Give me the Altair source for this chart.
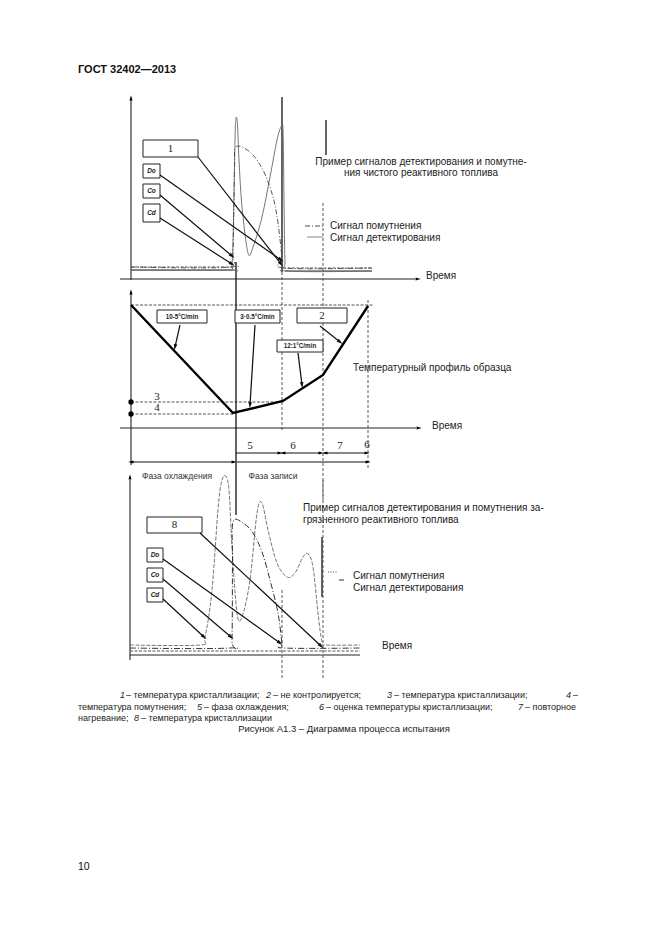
import math
import altair as alt
import pandas as pd

# ---------------- data (time / signal positions) ----------------
# Top panel: clean fuel
top_detect_t = [131, 230, 232, 233.5, 235, 236, 237.5, 239, 242, 248, 253, 262, 270, 277, 281, 283, 284, 285, 287, 372]
top_detect_v = [270, 270, 266, 220, 140, 118, 125, 160, 207, 253, 247, 217, 177, 140, 127, 130, 200, 262, 271, 271]
top_cloud_t = [131, 231, 233, 234.5, 236, 250, 263, 273, 278, 282, 284, 372]
top_cloud_v = [267, 267, 255, 170, 147, 152, 170, 197, 223, 257, 268, 268]

# Middle panel: temperature profile
prof_t = [131, 233, 283, 323, 368]
prof_v = [305, 413, 401, 375, 306]

# Bottom panel: contaminated fuel
bot_detect_t = [130, 200, 205, 212, 220, 228, 232, 237, 242, 250, 257, 262, 268, 277, 287, 295, 303, 308, 313, 318, 322, 326, 360]
bot_detect_v = [645, 645, 637, 590, 490, 482, 547, 613, 617, 580, 513, 503, 530, 563, 577, 573, 557, 554, 567, 613, 642, 645, 645]
bot_cloud_t = [130, 230, 232, 232.5, 233, 243, 253, 262, 270, 278, 282, 284, 360]
bot_cloud_v = [648, 648, 640, 560, 522, 523, 533, 552, 580, 613, 643, 648, 648]

# label boxes: (label, x1, y1, x2, y2)
boxes = [
    ("1", 143, 140, 198, 157), ("Do", 143, 164, 160, 178), ("Co", 143, 184, 160, 198), ("Cd", 143, 204, 160, 222),
    ("10-5°C/min", 157, 310, 207, 323), ("3·0.5°C/min", 235, 310, 280, 323), ("2", 297, 308, 347, 323),
    ("12:1°C/min", 277, 340, 323, 352),
    ("8", 147, 517, 202, 533), ("Do", 147, 548, 163, 562), ("Co", 147, 568, 163, 582), ("Cd", 147, 588, 163, 602),
]

# pointer arrows: (x_from, y_from, x_to, y_to)
pointers = [
    (198, 157, 281, 264), (160, 175, 281, 260), (160, 195, 232, 256), (160, 218, 232, 264),
    (180, 325, 175, 347), (255, 325, 250, 405), (320, 326, 340, 342), (298, 353, 302, 385),
    (200, 533, 321, 646), (163, 559, 280, 643), (163, 579, 231, 637), (163, 599, 204, 637),
]

# ---------------- helpers ----------------
X = alt.Scale(domain=[8, 653], nice=False, zero=False)
Y = alt.Scale(domain=[8, 928], nice=False, zero=False, reverse=True)


def xy():
    return dict(x=alt.X("x:Q", scale=X, axis=None), y=alt.Y("y:Q", scale=Y, axis=None))


def lines(segs, color="black", width=1.0, dash=None, interp="linear", opacity=1.0):
    rows = []
    for i, (xs, ys) in enumerate(segs):
        for j, (a, b) in enumerate(zip(xs, ys)):
            rows.append(dict(id=i, o=j, x=a, y=b))
    kw = dict(color=color, strokeWidth=width, interpolate=interp, clip=False, opacity=opacity)
    if dash:
        kw["strokeDash"] = dash
    return alt.Chart(pd.DataFrame(rows)).mark_line(**kw).encode(
        detail="id:N", order="o:Q", **xy())


def heads(items, size=38, color="black"):
    rows = []
    for (x0, y0, x1, y1) in items:
        ang = math.degrees(math.atan2(x1 - x0, -(y1 - y0))) % 360
        rows.append(dict(x=x1, y=y1, a=ang))
    return alt.Chart(pd.DataFrame(rows)).mark_point(
        shape="M0,-1L0.55,0.9L-0.55,0.9Z", filled=True, color=color, size=size, opacity=1
    ).encode(angle=alt.Angle("a:Q", scale=None), **xy())


def texts(items, **kw):
    df = pd.DataFrame(items, columns=["x", "y", "t"])
    base = dict(font="Liberation Sans", fontSize=10, color="#222", baseline="middle", align="left")
    base.update(kw)
    return alt.Chart(df).mark_text(**base).encode(text="t:N", **xy())


layers = []

# axes
axes = [
    ([131, 131], [280, 100]), ([120, 415], [279, 279]),          # top
    ([131, 131], [465, 294]), ([120, 416], [428, 428]),          # middle
    ([130, 130], [660, 480]), ([130, 360], [655, 655]),          # bottom
]
layers.append(lines(axes, color="#222", width=1.1))
layers.append(heads([(131, 120, 131, 98), (400, 279, 418, 279), (131, 310, 131, 292),
                     (400, 428, 419, 428), (130, 500, 130, 477)], size=30))

# baselines
layers.append(lines([([131, 233], [267, 267]), ([283, 372], [268, 268]),
                     ([130, 360], [651, 651]), ([131, 373], [305, 305]),
                     ([131, 283], [402, 402]), ([131, 233], [414, 414])],
                    color="#444", width=0.9, dash=[3, 1.5]))
layers.append(lines([([131, 233], [270, 270]), ([285, 372], [271, 271])], color="#333", width=1.0))

# reference verticals
layers.append(lines([([236, 236], [262, 515]), ([282, 282], [97, 272]), ([326, 326], [120, 155]),
                     ([322, 322], [537, 597])], color="#111", width=1.3))
layers.append(lines([([282, 282], [272, 432]), ([323, 323], [203, 500]), ([368, 368], [300, 470]),
                     ([282, 282], [590, 680]), ([323, 323], [480, 680])],
                    color="#444", width=0.9, dash=[3, 2]))

# signal curves
layers.append(lines([(top_detect_t, top_detect_v)], color="#666", width=0.9, interp="cardinal"))
layers.append(lines([(top_cloud_t, top_cloud_v)], color="#444", width=0.9, dash=[5, 2, 1, 2], interp="cardinal"))
layers.append(lines([(bot_detect_t, bot_detect_v)], color="#666", width=0.9, dash=[4, 1.5], interp="cardinal"))
layers.append(lines([(bot_cloud_t, bot_cloud_v)], color="#333", width=1.0, dash=[6, 2, 1, 2], interp="cardinal"))

# temperature profile
layers.append(lines([(prof_t, prof_v)], color="black", width=2.4))
layers.append(alt.Chart(pd.DataFrame(dict(x=[131, 131], y=[402, 414]))).mark_circle(
    color="black", size=28, opacity=1).encode(**xy()))

# phase arrows
phase = [([236, 280], [453, 453]), ([282, 321], [453, 453]), ([324, 367], [453, 453]),
         ([131, 234], [462, 462]), ([237, 368], [462, 462])]
layers.append(lines(phase, color="#111", width=1.1))
layers.append(heads([(236, 453, 280, 453), (321, 453, 283, 453), (282, 453, 321, 453),
                     (367, 453, 325, 453), (324, 453, 367, 453),
                     (234, 462, 131, 462), (131, 462, 234, 462), (237, 462, 368, 462)], size=30))

# legend samples
layers.append(lines([([305, 323], [226, 226])], color="#333", width=0.9, dash=[5, 2, 1, 2]))
layers.append(lines([([307, 323], [237, 237])], color="#777", width=0.9))
layers.append(lines([([328, 338], [572, 572])], color="#333", width=0.9, dash=[1, 1.5]))
layers.append(lines([([339, 344], [580, 580])], color="#333", width=1.0))

# boxes
bdf = pd.DataFrame(boxes, columns=["t", "x", "y", "x2", "y2"])
layers.append(alt.Chart(bdf).mark_rect(fill="white", stroke="#222", strokeWidth=1.0).encode(
    x=alt.X("x:Q", scale=X, axis=None), x2="x2:Q", y=alt.Y("y:Q", scale=Y, axis=None), y2="y2:Q"))
bdf["cx"] = (bdf.x + bdf.x2) / 2
bdf["cy"] = (bdf.y + bdf.y2) / 2
num_boxes = bdf[bdf.t.isin(["1", "2", "8"])]
rate_boxes = bdf[bdf.t.str.contains("min")]
small_boxes = bdf[bdf.t.isin(["Do", "Co", "Cd"])]
layers.append(alt.Chart(num_boxes).mark_text(font="Liberation Serif", fontSize=11, color="#222",
                                             baseline="middle", align="center").encode(
    x=alt.X("cx:Q", scale=X, axis=None), y=alt.Y("cy:Q", scale=Y, axis=None), text="t:N"))
layers.append(alt.Chart(rate_boxes).mark_text(font="Liberation Sans", fontSize=6.3, fontWeight="bold",
                                              color="#222", baseline="middle", align="center").encode(
    x=alt.X("cx:Q", scale=X, axis=None), y=alt.Y("cy:Q", scale=Y, axis=None), text="t:N"))
layers.append(alt.Chart(small_boxes).mark_text(font="Liberation Sans", fontSize=6.5, fontWeight="bold",
                                               fontStyle="italic", color="#222",
                                               baseline="middle", align="center").encode(
    x=alt.X("cx:Q", scale=X, axis=None), y=alt.Y("cy:Q", scale=Y, axis=None), text="t:N"))

# pointer arrows
layers.append(lines([([a, c], [b, d]) for a, b, c, d in pointers], color="#111", width=1.2))
layers.append(heads(pointers, size=42, color="#111"))

# serif numeric labels
layers.append(texts([(157, 397, "3"), (157, 408, "4"), (250, 446, "5"), (293, 446, "6"),
                     (340, 446, "7"), (367, 445, "6")],
                    font="Liberation Serif", fontSize=11, align="center"))

# plain texts
layers.append(texts([(421, 162, "Пример сигналов детектирования и помутне-"),
                     (421, 173, "ния чистого реактивного топлива")], align="center"))
layers.append(texts([(330, 226, "Сигнал помутнения"), (330, 238, "Сигнал детектирования"),
                     (426, 276, "Время"), (353, 368, "Температурный профиль образца"),
                     (432, 426, "Время"),
                     (303, 508, "Пример сигналов детектирования и помутнения за-"),
                     (303, 520, "грязненного реактивного топлива"),
                     (353, 576, "Сигнал помутнения"), (353, 588, "Сигнал детектирования"),
                     (382, 646, "Время")]))
layers.append(texts([(177, 476, "Фаза охлаждения"), (273, 476, "Фаза записи")],
                    fontSize=8.5, align="center", color="#333"))

# page header / footer / caption
layers.append(texts([(78, 70, "ГОСТ 32402—2013")], fontSize=11, fontWeight="bold", color="#111"))
layers.append(texts([(78, 867, "10")], fontSize=10.5, color="#111"))
cap_italic = [(120, 695, "1"), (266, 695, "2"), (387, 695, "3"), (566, 695, "4"),
              (197, 707, "5"), (319, 707, "6"), (518, 707, "7"), (134, 718, "8")]
layers.append(texts(cap_italic, fontSize=9, fontStyle="italic"))
cap = [(126, 695, "– температура кристаллизации;"), (273, 695, "– не контролируется;"),
       (394, 695, "– температура кристаллизации;"), (573, 695, "–"),
       (78, 707, "температура помутнения;"), (204, 707, "– фаза охлаждения;"),
       (326, 707, "– оценка температуры кристаллизации;"), (525, 707, "– повторное"),
       (78, 718, "нагревание;"), (141, 718, "– температура кристаллизации")]
layers.append(texts(cap, fontSize=9))
layers.append(texts([(344, 729, "Рисунок  А1.3 – Диаграмма процесса испытания")], fontSize=9.5,
                    align="center"))

chart = alt.layer(*layers).properties(width=645, height=920, padding=0, autosize="none",
                                      background="white").configure_view(strokeWidth=0)

chart.save("out.html", embed_options={"renderer": "svg", "actions": False})
